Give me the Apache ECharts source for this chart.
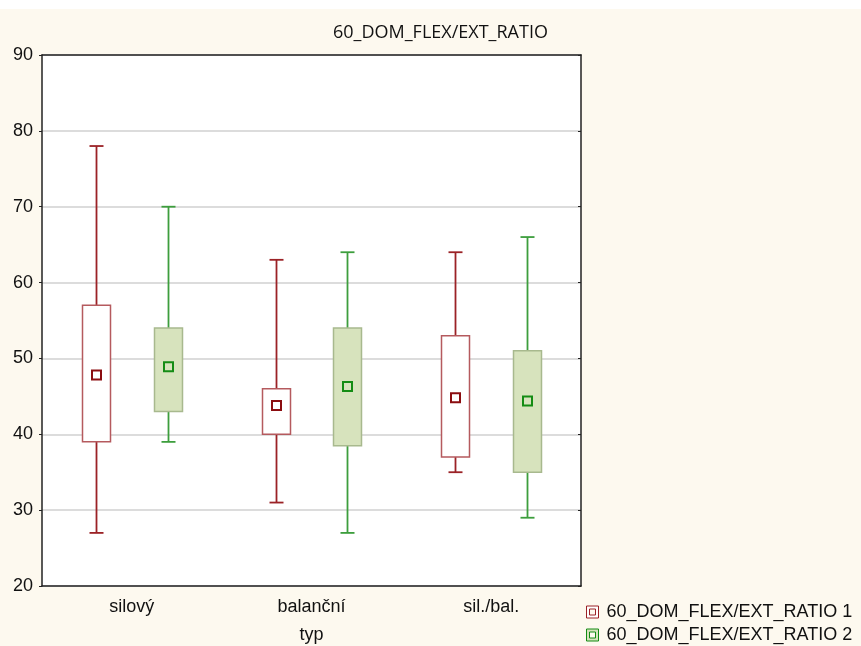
<!DOCTYPE html>
<html>
<head>
<meta charset="utf-8">
<script src="https://cdn.jsdelivr.net/npm/echarts@6/dist/echarts.min.js"></script>
<style>html,body{margin:0;padding:0;background:#fff;}#c{width:861px;height:646px;}</style>
</head>
<body>
<div id="c"></div>
<script>
const categories = ['silový', 'balanční', 'sil./bal.'];
const seriesNames = ['60_DOM_FLEX/EXT_RATIO 1', '60_DOM_FLEX/EXT_RATIO 2'];
// [min, q1, q3, max, mean]
const ratio1 = [
  [27, 39, 57, 78, 47.8],
  [31, 40, 46, 63, 43.8],
  [35, 37, 53, 64, 44.8]
];
const ratio2 = [
  [39, 43, 54, 70, 48.9],
  [27, 38.5, 54, 64, 46.3],
  [29, 35, 51, 66, 44.4]
];
const yTicks = [20, 30, 40, 50, 60, 70, 80, 90];

const styles = [
  {offset: -0.2, whisker: '#9b2226', boxFill: '#ffffff', boxBorder: '#b55a5e', mean: '#8b0d10', meanFill: '#ffffff'},
  {offset: 0.2, whisker: '#3d9e3d', boxFill: '#d7e3bd', boxBorder: '#a8b98e', mean: '#148c14', meanFill: '#d7e3bd'}
];

function makeRender(st) {
  return function (params, api) {
    const c = api.value(0);
    const band = api.size([1, 0])[0];
    const pMin = api.coord([c, api.value(1)]);
    const pQ1 = api.coord([c, api.value(2)]);
    const pQ3 = api.coord([c, api.value(3)]);
    const pMax = api.coord([c, api.value(4)]);
    const pMean = api.coord([c, api.value(5)]);
    const x = Math.round(pMin[0] + st.offset * band) + 0.5;
    const hw = 14, cw = 7, ms = 4.5;
    const lw = {stroke: st.whisker, lineWidth: 1.8};
    return {
      type: 'group',
      children: [
        {type: 'line', shape: {x1: x, y1: pMax[1], x2: x, y2: pQ3[1]}, style: lw},
        {type: 'line', shape: {x1: x, y1: pQ1[1], x2: x, y2: pMin[1]}, style: lw},
        {type: 'line', shape: {x1: x - cw, y1: pMax[1], x2: x + cw, y2: pMax[1]}, style: lw},
        {type: 'line', shape: {x1: x - cw, y1: pMin[1], x2: x + cw, y2: pMin[1]}, style: lw},
        {type: 'rect', shape: {x: x - hw, y: pQ3[1], width: 2 * hw, height: pQ1[1] - pQ3[1]},
          style: {fill: st.boxFill, stroke: st.boxBorder, lineWidth: 1.5}},
        {type: 'rect', shape: {x: x - ms, y: pMean[1] - ms, width: 2 * ms, height: 2 * ms},
          style: {fill: st.meanFill, stroke: st.mean, lineWidth: 2}}
      ]
    };
  };
}

function toData(arr) {
  return arr.map((d, i) => [i, d[0], d[1], d[2], d[3], d[4]]);
}

const chart = echarts.init(document.getElementById('c'), null, {renderer: 'canvas'});
const font = '"Liberation Sans", Arial, sans-serif';
const legendIcon = 'path://M0,0L12,0L12,12L0,12Z M3,3L3,9L9,9L9,3Z';
const legendText = {fontFamily: font, fontSize: 18, color: '#111', padding: [0, 0, 0, 3]};
const option = {
  backgroundColor: '#fdf9ef',
  animation: false,
  title: {
    text: '60_DOM_FLEX/EXT_RATIO',
    left: 328, top: 19,
    textStyle: {fontFamily: '"Open Sans", sans-serif', fontSize: 18, fontWeight: 'normal', color: '#111'}
  },
  graphic: [
    {type: 'rect', left: 0, top: 0, z: -10, shape: {width: 861, height: 9}, style: {fill: '#ffffff'}}
  ],
  legend: [
    {
      left: 586, top: 603, padding: 0, itemWidth: 12, itemHeight: 12, textStyle: legendText,
      data: [{name: seriesNames[0], icon: legendIcon,
        itemStyle: {color: '#ffffff', borderColor: '#9b2226', borderWidth: 1}}]
    },
    {
      left: 586, top: 626, padding: 0, itemWidth: 12, itemHeight: 12, textStyle: legendText,
      data: [{name: seriesNames[1], icon: legendIcon,
        itemStyle: {color: '#d7e3bd', borderColor: '#148c14', borderWidth: 1}}]
    }
  ],
  grid: {left: 42, right: 280, top: 55, bottom: 60, outerBoundsMode: 'none', containLabel: false,
    show: true, backgroundColor: '#ffffff', borderWidth: 0},
  xAxis: [
    {
      type: 'category', data: categories, position: 'bottom',
      name: 'typ', nameLocation: 'middle', nameGap: 40,
      nameTextStyle: {fontFamily: font, fontSize: 18, color: '#111'},
      axisLine: {lineStyle: {color: '#222', width: 1.5}},
      axisTick: {alignWithLabel: true, inside: true, length: 4, lineStyle: {color: '#222'}},
      axisLabel: {fontFamily: font, fontSize: 18, color: '#111', margin: 12},
      splitLine: {show: false}
    },
    {
      type: 'category', data: categories, position: 'top',
      axisLine: {lineStyle: {color: '#222', width: 1.5}},
      axisTick: {alignWithLabel: true, inside: true, length: 4, lineStyle: {color: '#222'}},
      axisLabel: {show: false}
    }
  ],
  yAxis: [
    {
      type: 'value', min: yTicks[0], max: yTicks[yTicks.length - 1], interval: 10,
      axisLine: {show: true, lineStyle: {color: '#222', width: 1.5}},
      axisTick: {show: true, length: 3, lineStyle: {color: '#222'}},
      axisLabel: {fontFamily: font, fontSize: 18, color: '#111', margin: 9},
      splitLine: {show: true, lineStyle: {color: '#dcdcdc', width: 2}}
    },
    {
      type: 'value', min: yTicks[0], max: yTicks[yTicks.length - 1], interval: 10, position: 'right',
      axisLine: {show: true, lineStyle: {color: '#222', width: 1.5}},
      axisTick: {show: true, inside: true, length: 3, lineStyle: {color: '#222'}},
      axisLabel: {show: false},
      splitLine: {show: false}
    }
  ],
  series: [
    {
      name: seriesNames[0], type: 'custom', xAxisIndex: 0, yAxisIndex: 0,
      itemStyle: {color: '#9b2226'},
      renderItem: makeRender(styles[0]),
      encode: {x: 0, y: [1, 2, 3, 4, 5]},
      data: toData(ratio1)
    },
    {
      name: seriesNames[1], type: 'custom', xAxisIndex: 0, yAxisIndex: 0,
      itemStyle: {color: '#148c14'},
      renderItem: makeRender(styles[1]),
      encode: {x: 0, y: [1, 2, 3, 4, 5]},
      data: toData(ratio2)
    }
  ]
};
chart.setOption(option);
</script>
</body>
</html>
